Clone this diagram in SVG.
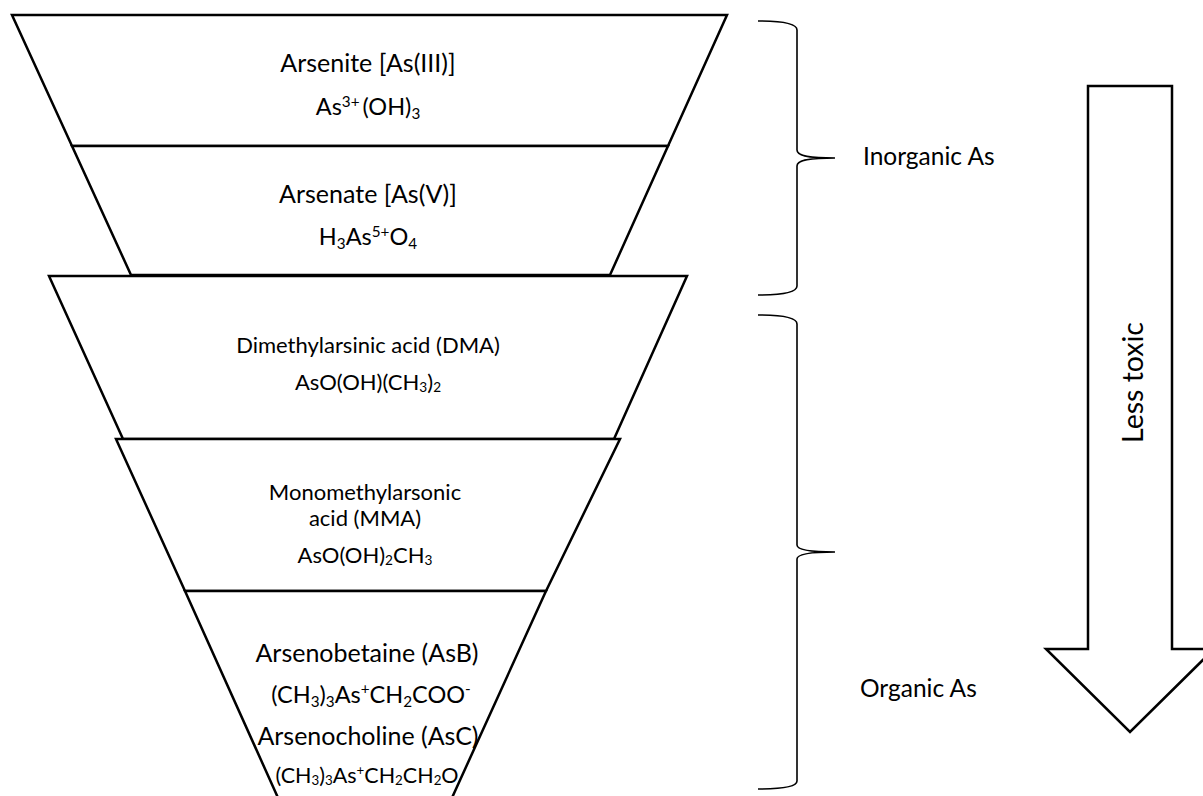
<svg xmlns="http://www.w3.org/2000/svg" width="1203" height="796" viewBox="0 0 1203 796">
<style>
.seg{fill:#fff;stroke:#000;stroke-width:2.5;stroke-linejoin:miter}
.br{fill:none;stroke:#000;stroke-width:1.6}
.t{font-family:Lato,"Liberation Sans",sans-serif;fill:#000;text-anchor:middle}
.h{font-size:25px}
.a{font-size:23.5px}
.b{font-size:22px}
.c{font-size:25px}
.f{font-size:23.5px}
.g{font-size:21.5px}
.s{font-size:65%}
.u{font-size:62%}
</style>
<rect width="1203" height="796" fill="#fff"/>
<g id="arsenite">
<polygon class="seg" points="12,15 727,15 668,146 72,146"/>
<text class="t h" x="368" y="72">Arsenite [As(III)]</text>
<text class="t a" x="368" y="115">As<tspan class="s" baseline-shift="8">3+</tspan><tspan dx="3">(OH)</tspan><tspan class="s" baseline-shift="-4">3</tspan></text>
</g>
<g id="arsenate">
<polygon class="seg" points="72,146 668,146 610,275 131,275"/>
<text class="t h" x="368" y="203">Arsenate [As(V)]</text>
<text class="t a" x="368" y="245">H<tspan class="s" baseline-shift="-4">3</tspan>As<tspan class="s" baseline-shift="8">5+</tspan>O<tspan class="s" baseline-shift="-4">4</tspan></text>
</g>
<g id="dma">
<polygon class="seg" points="49,276 687,276 614,439 123,439"/>
<text class="t b" x="368" y="353">Dimethylarsinic acid (DMA)</text>
<text class="t b" x="368" y="390">AsO(OH)(CH<tspan class="u" baseline-shift="-2">3</tspan>)<tspan class="u" baseline-shift="-2">2</tspan></text>
</g>
<g id="mma">
<polygon class="seg" points="116,439 620,439 546,591 185,591"/>
<text class="t b" x="365" y="500">Monomethylarsonic</text>
<text class="t b" x="365" y="526">acid (MMA)</text>
<text class="t b" x="365" y="563">AsO(OH)<tspan class="u" baseline-shift="-2">2</tspan>CH<tspan class="u" baseline-shift="-2">3</tspan></text>
</g>
<g id="asb">
<polygon class="seg" points="185,591 546,591 451,800 279,800"/>
<text class="t c" x="367" y="662">Arsenobetaine (AsB)</text>
<text class="t f" x="371" y="703">(CH<tspan class="s" baseline-shift="-4">3</tspan>)<tspan class="s" baseline-shift="-4">3</tspan>As<tspan class="s" baseline-shift="9">+</tspan>CH<tspan class="s" baseline-shift="-4">2</tspan>COO<tspan class="s" baseline-shift="9">-</tspan></text>
<text class="t c" x="368" y="745">Arsenocholine (AsC)</text>
<text class="t g" x="367" y="783">(CH<tspan class="u" baseline-shift="-2">3</tspan>)<tspan class="u" baseline-shift="-2">3</tspan>As<tspan class="u" baseline-shift="8">+</tspan>CH<tspan class="u" baseline-shift="-2">2</tspan>CH<tspan class="u" baseline-shift="-2">2</tspan>O</text>
</g>
<g id="connectors">
<path class="br" d="M758,21 C780,21 797,23 797,30 L797,150 C797,155 805,158 835,158 C805,158 797,161 797,166 L797,286 C797,293 780,295 758,295"/>
<path class="br" d="M758,315 C780,315 797,317 797,324 L797,545 C797,549 805,552 835,552 C805,552 797,555 797,559 L797,781 C797,787 780,789 758,789"/>
</g>
<g id="inorganic-label">
<text class="t" style="font-size:24.5px;text-anchor:start" x="863" y="165">Inorganic As</text>
</g>
<g id="organic-label">
<text class="t" style="font-size:24.5px;text-anchor:start" x="860" y="697">Organic As</text>
</g>
<g id="less-toxic-arrow">
<polygon class="seg" points="1088,86 1172,86 1172,649 1214,649 1130,732 1046,649 1088,649"/>
<text class="t" style="font-size:28.5px" transform="translate(1143,382.5) rotate(-90)" x="0" y="0">Less toxic</text>
</g>
</svg>
